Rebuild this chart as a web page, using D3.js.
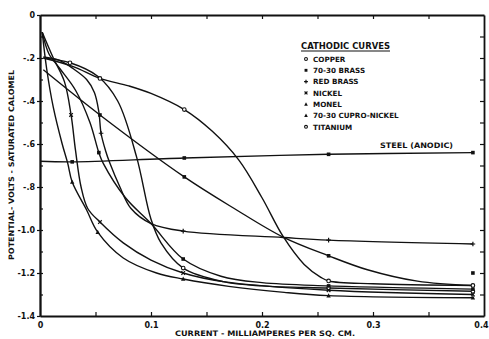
<!DOCTYPE html>
<html>
<head>
<meta charset="utf-8">
<script src="https://cdn.jsdelivr.net/npm/d3@7"></script>
<style>
  html, body { margin: 0; padding: 0; background: #fff; }
  svg { display: block; }
  text { font-family: "DejaVu Sans", "Liberation Sans", sans-serif; font-weight: bold; fill: #111; }
</style>
</head>
<body>
<svg id="chart" width="489" height="339"></svg>
<script>
// Axis ticks and labels
const xTicks = [0, 0.1, 0.2, 0.3, 0.4];
const xTickLabels = ["0", "0.1", "0.2", "0.3", "0.4"];
const xMinorTicks = [0.05, 0.1, 0.15, 0.2, 0.25, 0.3, 0.35];
const yTicks = [0, -0.2, -0.4, -0.6, -0.8, -1.0, -1.2, -1.4];
const yTickLabels = ["0", "-.2", "-.4", "-.6", "-.8", "-1.0", "-1.2", "-1.4"];
const yMinorTicks = [-0.1, -0.2, -0.3, -0.4, -0.5, -0.6, -0.7, -0.8, -0.9, -1.0, -1.1, -1.2, -1.3];

// Legend entries (symbol, name)
const legendSymbols = ["ring", "dot", "plus", "cross", "tri", "tri", "ring"];
const legendNames = ["COPPER", "70-30 BRASS", "RED BRASS", "NICKEL", "MONEL", "70-30 CUPRO-NICKEL", "TITANIUM"];

// Curves: [current mA/sq.cm, potential V]; marks: measured points
const copperCurve = [[0.003,-0.2],[0.027,-0.222],[0.052,-0.285],[0.07,-0.40],[0.087,-0.66],[0.1,-0.95],[0.109,-1.06],[0.129,-1.177],[0.165,-1.24],[0.2,-1.26],[0.26,-1.27],[0.39,-1.285]];
const copperMarks = [[0.027,-0.222],[0.129,-1.177],[0.26,-1.27],[0.39,-1.285]];

const brassCurve = [[0.003,-0.255],[0.054,-0.465],[0.13,-0.753],[0.175,-0.9],[0.219,-1.033],[0.26,-1.12],[0.295,-1.185],[0.34,-1.238],[0.39,-1.258]];
const brassMarks = [[0.054,-0.465],[0.13,-0.753],[0.26,-1.12],[0.39,-1.20]];

const redBrassCurve = [[0.003,-0.195],[0.017,-0.21],[0.03,-0.25],[0.042,-0.3],[0.049,-0.36],[0.053,-0.45],[0.055,-0.55],[0.059,-0.63],[0.063,-0.69],[0.072,-0.8],[0.082,-0.9],[0.1,-0.97],[0.129,-1.005],[0.219,-1.035],[0.26,-1.047],[0.39,-1.065]];
const redBrassMarks = [[0.055,-0.55],[0.129,-1.005],[0.26,-1.047],[0.39,-1.065]];

const nickelCurve = [[0.002,-0.08],[0.012,-0.2],[0.022,-0.31],[0.028,-0.465],[0.032,-0.63],[0.037,-0.8],[0.043,-0.9],[0.054,-0.963],[0.075,-1.06],[0.1,-1.14],[0.129,-1.2],[0.165,-1.24],[0.26,-1.28],[0.39,-1.30]];
const nickelMarks = [[0.028,-0.465],[0.054,-0.963],[0.129,-1.2],[0.26,-1.28],[0.39,-1.30]];

const monelCurve = [[0.002,-0.08],[0.006,-0.25],[0.012,-0.43],[0.02,-0.6],[0.025,-0.69],[0.029,-0.777],[0.042,-0.907],[0.052,-1.01],[0.075,-1.13],[0.105,-1.2],[0.129,-1.228],[0.17,-1.262],[0.22,-1.29],[0.26,-1.305],[0.39,-1.315]];
const monelMarks = [[0.029,-0.777],[0.052,-1.01],[0.129,-1.228],[0.26,-1.305],[0.39,-1.315]];

const cuproCurve = [[0.002,-0.08],[0.008,-0.18],[0.018,-0.25],[0.032,-0.35],[0.045,-0.5],[0.053,-0.64],[0.057,-0.69],[0.077,-0.85],[0.1,-0.97],[0.129,-1.135],[0.163,-1.215],[0.2,-1.245],[0.26,-1.26],[0.39,-1.275]];
const cuproMarks = [[0.053,-0.64],[0.129,-1.135],[0.26,-1.26],[0.39,-1.275]];

const titaniumCurve = [[0.003,-0.2],[0.03,-0.24],[0.054,-0.295],[0.08,-0.33],[0.1,-0.365],[0.13,-0.44],[0.155,-0.54],[0.179,-0.674],[0.2,-0.85],[0.219,-1.03],[0.238,-1.16],[0.253,-1.22],[0.26,-1.237],[0.3,-1.25],[0.39,-1.258]];
const titaniumMarks = [[0.054,-0.295],[0.13,-0.44],[0.26,-1.237],[0.39,-1.258]];

const steelCurve = [[0,-0.68],[0.029,-0.683],[0.13,-0.665],[0.26,-0.648],[0.39,-0.64]];
const steelMarks = [[0.029,-0.683],[0.13,-0.665],[0.26,-0.648],[0.39,-0.64]];

const series = [
  { curve: copperCurve, marks: copperMarks, symbol: "ring" },
  { curve: brassCurve, marks: brassMarks, symbol: "dot" },
  { curve: redBrassCurve, marks: redBrassMarks, symbol: "plus" },
  { curve: nickelCurve, marks: nickelMarks, symbol: "cross" },
  { curve: monelCurve, marks: monelMarks, symbol: "tri" },
  { curve: cuproCurve, marks: cuproMarks, symbol: "dot" },
  { curve: titaniumCurve, marks: titaniumMarks, symbol: "ring" },
  { curve: steelCurve, marks: steelMarks, symbol: "dot" }
];

const svg = d3.select("#chart");
const x = d3.scaleLinear().domain([0, 0.4]).range([40, 484]);
const y = d3.scaleLinear().domain([-1.4, 0]).range([316, 15]);
const ink = "#111";

function styleAxis(g) {
  g.select(".domain").attr("stroke", ink).attr("stroke-width", 1.8);
  g.selectAll(".tick line").attr("stroke", ink).attr("stroke-width", 1.2);
  g.selectAll(".tick text").attr("fill", ink).attr("font-size", 8).attr("font-weight", "bold");
}

// Frame with inward ticks on all four sides
svg.append("g").attr("transform", `translate(0,${y(0)})`)
  .call(d3.axisBottom(x).tickValues(xMinorTicks).tickSize(4).tickFormat("").tickSizeOuter(0)).call(styleAxis);
svg.append("g").attr("transform", `translate(${x(0.4)},0)`)
  .call(d3.axisLeft(y).tickValues(yMinorTicks).tickSize(4).tickFormat("").tickSizeOuter(0)).call(styleAxis);
svg.append("g").attr("transform", `translate(0,${y(-1.4)})`)
  .call(d3.axisTop(x).tickValues(xMinorTicks).tickSize(4).tickFormat("").tickSizeOuter(0)).call(styleAxis);
svg.append("g").attr("transform", `translate(${x(0)},0)`)
  .call(d3.axisRight(y).tickValues(yMinorTicks).tickSize(3).tickFormat("").tickSizeOuter(0)).call(styleAxis);

// Labelled axes
svg.append("g").attr("transform", `translate(${x(0)},0)`)
  .call(d3.axisLeft(y).tickValues(yTicks).tickSize(3).tickPadding(2)
    .tickFormat((d, i) => yTickLabels[i]).tickSizeOuter(0)).call(styleAxis);
const xLabels = svg.append("g").attr("transform", `translate(0,${y(-1.4)})`)
  .call(d3.axisBottom(x).tickValues(xTicks).tickSize(0).tickPadding(6)
    .tickFormat((d, i) => xTickLabels[i]).tickSizeOuter(0)).call(styleAxis);
xLabels.select(".domain").remove();
// last label sits against the right edge
xLabels.selectAll(".tick text").filter(d => d === 0.4)
  .attr("text-anchor", "end").attr("x", 4);

// Axis titles
svg.append("text").attr("x", 175).attr("y", 336)
  .attr("font-size", 7.5).attr("textLength", 180).attr("lengthAdjust", "spacingAndGlyphs")
  .text("CURRENT - MILLIAMPERES PER SQ. CM.");
svg.append("text").attr("transform", "translate(14,260) rotate(-90)")
  .attr("font-size", 7.5).attr("textLength", 190).attr("lengthAdjust", "spacingAndGlyphs")
  .text("POTENTIAL- VOLTS - SATURATED CALOMEL");

// Curves
const line = d3.line().x(d => x(d[0])).y(d => y(d[1])).curve(d3.curveCatmullRom.alpha(0.5));
const plot = svg.append("g");
series.forEach(s => {
  plot.append("path").attr("d", line(s.curve)).attr("fill", "none")
    .attr("stroke", ink).attr("stroke-width", 1.4);
});

function drawSymbol(g, sym, cx, cy, k) {
  const r = 1.8 * k;
  if (sym === "ring") {
    g.append("circle").attr("cx", cx).attr("cy", cy).attr("r", r).attr("fill", "#fff").attr("stroke", ink).attr("stroke-width", 1.1);
  } else if (sym === "dot") {
    g.append("rect").attr("x", cx - r).attr("y", cy - r).attr("width", 2 * r).attr("height", 2 * r).attr("fill", ink);
  } else if (sym === "plus") {
    g.append("path").attr("d", `M${cx - r - 0.5},${cy}H${cx + r + 0.5}M${cx},${cy - r - 0.5}V${cy + r + 0.5}`).attr("stroke", ink).attr("stroke-width", 1.2);
  } else if (sym === "cross") {
    g.append("path").attr("d", `M${cx - r},${cy - r}L${cx + r},${cy + r}M${cx - r},${cy + r}L${cx + r},${cy - r}`).attr("stroke", ink).attr("stroke-width", 1.2);
  } else if (sym === "tri") {
    g.append("path").attr("d", `M${cx},${cy - r - 0.6}L${cx + r + 0.4},${cy + r}L${cx - r - 0.4},${cy + r}Z`).attr("fill", ink);
  }
}

series.forEach(s => {
  s.marks.forEach(p => drawSymbol(plot, s.symbol, x(p[0]), y(p[1]), 1));
});

// Legend
const legend = svg.append("g");
legend.append("text").attr("x", 301).attr("y", 49).attr("font-size", 8.5)
  .attr("textLength", 89).attr("lengthAdjust", "spacingAndGlyphs").text("CATHODIC CURVES");
legend.append("line").attr("x1", 301).attr("x2", 390).attr("y1", 51).attr("y2", 51)
  .attr("stroke", ink).attr("stroke-width", 1.1);
legendNames.forEach((name, i) => {
  const cy = 59 + i * 11.3;
  drawSymbol(legend, legendSymbols[i], 306, cy, 0.8);
  legend.append("text").attr("x", 313).attr("y", cy + 2.8).attr("font-size", 7.2).text(name);
});

// Steel label
svg.append("text").attr("x", 380).attr("y", 148).attr("font-size", 7.5)
  .attr("textLength", 73).attr("lengthAdjust", "spacingAndGlyphs").text("STEEL (ANODIC)");
</script>
</body>
</html>
